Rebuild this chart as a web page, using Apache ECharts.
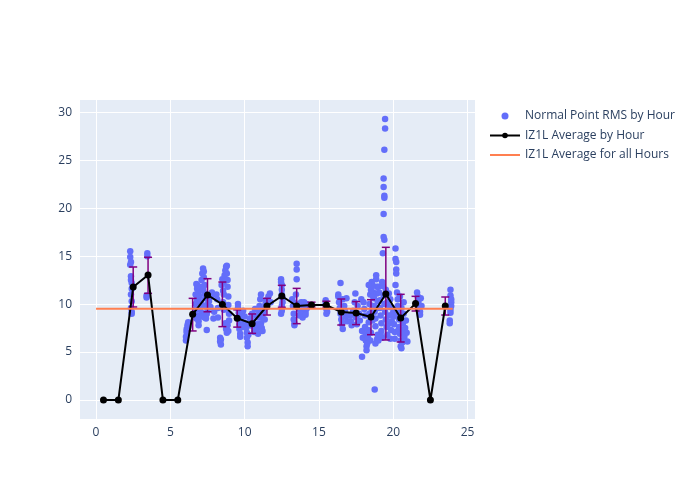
<!DOCTYPE html>
<html>
<head>
<meta charset="utf-8">
<script src="https://cdn.jsdelivr.net/npm/echarts@6/dist/echarts.min.js"></script>
<style>html,body{margin:0;padding:0;background:#fff}#c{width:700px;height:500px}</style>
</head>
<body>
<div id="c"></div>
<script>
// Hourly average (IZ1L) and error bars
var hours = [0.5,1.5,2.5,3.5,4.5,5.5,6.5,7.5,8.5,9.5,10.5,11.5,12.5,13.5,14.5,15.5,16.5,17.5,18.5,19.5,20.5,21.5,22.5,23.5];
var avgByHour = [0,0,11.78,13.03,0,0,8.93,10.95,9.97,8.52,7.96,9.8,10.84,9.8,9.9,9.9,9.17,9.07,8.65,11.05,8.55,10.05,0,9.8];
var errHigh = [null,null,13.87,14.88,null,null,10.6,12.65,12.3,9.4,8.97,10.6,11.96,11.64,10.2,10.3,10.53,10.26,10.46,15.92,11.02,10.81,null,10.74];
var errLow  = [null,null,9.7,11.12,null,null,7.2,9.2,7.65,7.6,6.95,8.86,9.67,7.96,9.7,9.7,7.82,7.86,6.81,6.26,6.05,9.28,null,8.86];
var overallAvg = 9.52;
var overallRange = [0, 24];
var xTicks = [0,5,10,15,20,25];
var yTicks = [0,5,10,15,20,25,30];

// Normal point RMS by hour [hour, rms]
var rmsPoints = [
 [2.3,15.5],[2.3,14.9],[2.35,14.4],[2.3,14.1],[2.35,12.9],[2.35,12.5],[2.4,12.2],[2.4,11.6],[2.35,11.0],[2.4,10.3],[2.35,9.6],[2.4,9.2],[2.4,9.0],
 [3.45,15.3],[3.45,15.0],[3.4,10.7],[3.4,10.9],
 [6.05,6.2],[6.05,6.6],[6.1,7.0],[6.1,7.4],[6.15,7.8],[6.2,8.1],[6.1,7.2],[6.2,7.6],[6.6,9.0],[6.7,10.0],[6.7,11.0],[6.75,12.1],[6.8,11.6],[6.8,10.5],[6.85,9.5],[6.85,8.8],[6.9,8.2],[6.9,7.8],[6.7,9.4],[6.75,8.5],[6.8,12.0],[6.9,11.3],[6.95,10.8],[6.95,9.9],
 [7.0,11.8],[7.05,10.2],[7.1,9.1],[7.1,12.5],[7.15,13.2],[7.2,13.7],[7.25,13.4],[7.25,12.8],[7.3,12.0],[7.3,11.1],[7.35,10.6],[7.35,9.8],[7.4,8.9],[7.4,8.5],[7.45,7.3],[7.5,9.3],[7.5,10.0],[7.0,9.6],[7.15,8.7],[7.2,11.5],[7.3,8.6],[7.45,9.0],[7.6,10.3],[7.7,9.7],[7.75,10.8],[7.8,11.2],[7.9,8.5],[7.95,9.2],
 [8.1,11.0],[8.15,10.5],[8.2,9.6],[8.2,8.6],[8.35,6.5],[8.35,6.1],[8.4,5.8],[8.4,6.3],[8.45,12.0],[8.5,12.6],[8.55,11.4],[8.55,10.2],[8.6,9.4],[8.6,12.3],[8.65,13.0],[8.7,13.5],[8.75,13.9],[8.8,14.0],[8.8,13.2],[8.85,12.5],[8.85,11.8],[8.9,10.8],[8.9,9.9],[8.95,9.0],[8.95,8.3],[8.7,8.0],[8.75,7.4],[8.8,7.0],[8.85,7.8],[8.9,7.2],[8.6,11.0],[8.5,9.8],
 [9.55,10.0],[9.55,9.6],[9.6,9.1],[9.6,8.5],[9.65,7.9],[9.65,7.4],[9.7,6.9],[9.7,6.6],[9.75,8.2],[9.8,7.6],[9.85,8.8],[9.9,9.3],[9.95,8.0],
 [10.0,8.7],[10.05,8.0],[10.1,7.5],[10.15,7.0],[10.15,6.5],[10.2,6.0],[10.2,5.6],[10.25,6.8],[10.3,7.8],[10.35,8.5],[10.5,9.0],[10.55,8.2],[10.6,7.6],[10.65,7.1],[10.7,9.5],[10.75,8.8],[10.8,7.4],[10.85,7.9],[10.9,8.6],[10.95,9.3],[10.9,6.9],
 [11.0,9.8],[11.05,10.5],[11.1,11.0],[11.1,8.0],[11.15,7.5],[11.2,8.6],[11.25,9.1],[11.3,9.5],[11.4,10.0],[11.45,10.4],[11.5,9.7],[11.6,10.8],[11.7,11.1],[11.75,10.2],[11.2,7.2],[11.05,7.8],[11.35,8.4],
 [12.45,12.6],[12.45,12.3],[12.5,12.0],[12.5,11.5],[12.5,11.0],[12.55,10.6],[12.55,10.2],[12.5,9.8],[12.5,9.3],[12.45,9.0],
 [13.2,10.5],[13.25,9.8],[13.3,9.0],[13.3,8.4],[13.35,7.8],[13.35,8.0],[13.4,10.1],[13.45,11.0],[13.5,14.2],[13.5,13.6],[13.5,12.6],[13.6,9.6],[13.7,8.8],[13.75,9.3],[13.8,10.2],[13.85,9.0],[13.9,8.6],[13.95,9.7],
 [14.0,10.2],[14.05,9.8],[14.05,9.5],[14.1,9.2],[14.1,8.9],[14.15,10.0],[14.2,9.6],
 [15.45,10.4],[15.45,10.1],[15.5,9.8],[15.5,9.5],[15.55,9.2],[15.5,9.0],
 [16.3,10.8],[16.3,11.0],[16.35,10.2],[16.4,9.6],[16.45,9.0],[16.5,8.4],[16.55,7.9],[16.6,7.4],[16.45,12.2],[16.6,10.5],[16.7,9.8],[16.75,9.3],[16.8,8.7],[16.85,10.6],[16.9,8.2],
 [17.1,8.8],[17.15,8.2],[17.2,7.8],[17.3,9.3],[17.4,10.2],[17.45,11.1],[17.5,8.6],[17.55,7.9],[17.6,9.8],[17.7,9.0],[17.75,8.3],[17.9,4.5],[17.85,10.5],[17.9,7.2],[17.95,6.5],
 [18.0,10.2],[18.05,9.5],[18.1,8.8],[18.1,7.6],[18.15,6.8],[18.15,6.2],[18.2,5.6],[18.2,5.2],[18.25,5.9],[18.3,6.5],[18.3,7.3],[18.35,8.1],[18.4,9.0],[18.4,10.0],[18.45,11.0],[18.5,11.5],[18.55,12.3],[18.6,12.0],[18.65,11.2],[18.7,10.6],[18.7,9.8],[18.75,9.2],[18.75,1.1],[18.8,8.5],[18.8,7.7],[18.85,13.0],[18.85,12.6],[18.9,11.8],[18.9,11.1],[18.95,10.3],[18.95,9.6],[18.6,8.3],[18.5,7.0],[18.45,6.2],[18.55,9.4],[18.65,10.8],[18.35,12.0],[18.9,6.3],[18.95,6.8],[18.8,5.9],
 [19.45,29.3],[19.45,28.3],[19.4,26.1],[19.35,23.1],[19.35,22.2],[19.4,21.3],[19.4,21.1],[19.35,19.4],[19.35,17.0],[19.4,16.7],[19.3,15.3],[19.0,11.8],[19.05,11.2],[19.1,10.4],[19.1,9.6],[19.15,8.8],[19.2,8.0],[19.2,7.2],[19.25,6.5],[19.3,11.9],[19.35,10.9],[19.4,10.0],[19.45,9.2],[19.5,8.4],[19.55,7.6],[19.6,6.8],[19.65,7.9],[19.7,8.8],[19.75,9.7],[19.8,10.5],[19.85,7.3],[19.9,8.2],[19.95,9.0],[19.0,6.2],[19.15,6.8],[19.5,11.5],[19.6,10.2],[19.7,11.1],[19.25,12.3],[19.8,6.4],
 [20.0,9.5],[20.05,8.7],[20.05,7.9],[20.1,7.1],[20.1,6.4],[20.15,15.8],[20.15,14.7],[20.2,14.4],[20.2,13.6],[20.2,13.2],[20.15,12.0],[20.25,11.2],[20.3,10.5],[20.3,9.8],[20.35,9.1],[20.4,8.4],[20.4,7.6],[20.45,6.9],[20.5,6.2],[20.5,5.6],[20.55,5.4],[20.6,6.0],[20.6,7.2],[20.65,8.0],[20.7,9.0],[20.7,10.2],[20.75,6.6],[20.8,7.5],[20.85,8.3],[20.9,7.0],[20.95,6.1],[20.25,8.9],[20.35,7.3],[20.45,10.8],[20.55,9.6],
 [21.6,11.2],[21.65,10.8],[21.7,10.4],[21.7,10.0],[21.75,9.6],[21.8,9.2],[21.8,8.9],[21.85,10.6],[21.9,9.8],
 [23.85,11.5],[23.85,10.9],[23.9,10.5],[23.9,10.2],[23.9,9.8],[23.85,9.4],[23.85,9.1],[23.8,8.3],[23.8,8.0]
];

var avgData = hours.map(function(h,i){return [h, avgByHour[i]];});
var errData = [];
hours.forEach(function(h,i){ if(errHigh[i]!==null) errData.push([h, errLow[i], errHigh[i]]); });

var FONT = '"Open Sans", "DejaVu Sans", sans-serif';
var chart = echarts.init(document.getElementById('c'), null, {renderer:'canvas'});
chart.setOption({
  animation:false,
  backgroundColor:'#fff',
  textStyle:{fontFamily:FONT},
  grid:{left:80,right:225,top:100,bottom:81,show:true,backgroundColor:'#E5ECF6',borderWidth:0},
  legend:{
    orient:'vertical', left:484, top:105, itemGap:7.5, itemWidth:30, itemHeight:7,
    symbolKeepAspect:true,
    textStyle:{fontFamily:FONT,fontSize:12,color:'#2a3f5f'},
    data:[
      {name:'Normal Point RMS by Hour', icon:'circle', itemStyle:{color:'#636EFA'}},
      {name:'IZ1L Average by Hour'},
      {name:'IZ1L Average for all Hours', icon:'path://M0,0L30,0L30,2L0,2Z', itemStyle:{color:'#FF7F50'}}
    ]
  },
  xAxis:{
    type:'value', min:-1.08, max:25.5,
    axisLine:{show:false},
    axisTick:{show:false, customValues:xTicks},
    axisLabel:{color:'#2a3f5f',fontSize:12,fontFamily:FONT,margin:8,customValues:xTicks},
    splitLine:{show:true,lineStyle:{color:'#fff',width:1}}
  },
  yAxis:{
    type:'value', min:-1.98, max:31.28,
    axisLine:{show:false},
    axisTick:{show:false, customValues:yTicks},
    axisLabel:{color:'#2a3f5f',fontSize:12,fontFamily:FONT,margin:8,customValues:yTicks},
    splitLine:{show:true,lineStyle:{color:'#fff',width:1}}
  },
  series:[
    {
      name:'Normal Point RMS by Hour', type:'scatter', data:rmsPoints,
      symbol:'circle', symbolSize:6.5, itemStyle:{color:'#636EFA',opacity:1}
    },
    {
      name:'IZ1L Average by Hour', type:'line', data:avgData,
      symbol:'circle', symbolSize:7, showSymbol:true,
      lineStyle:{color:'#000',width:2}, itemStyle:{color:'#000'}, z:4
    },
    {
      name:'errorbars', type:'custom', data:errData,
      renderItem:function(params, api){
        var x = api.value(0);
        var lo = api.coord([x, api.value(1)]);
        var hi = api.coord([x, api.value(2)]);
        var w = 4;
        var st = {stroke:'#800080', lineWidth:1.5};
        return {type:'group', children:[
          {type:'line', shape:{x1:lo[0],y1:lo[1],x2:hi[0],y2:hi[1]}, style:st},
          {type:'line', shape:{x1:hi[0]-w,y1:hi[1],x2:hi[0]+w,y2:hi[1]}, style:st},
          {type:'line', shape:{x1:lo[0]-w,y1:lo[1],x2:lo[0]+w,y2:lo[1]}, style:st}
        ]};
      },
      z:3
    },
    {
      name:'IZ1L Average for all Hours', type:'line',
      data:[[overallRange[0],overallAvg],[overallRange[1],overallAvg]],
      symbol:'none', lineStyle:{color:'#FF7F50',width:2}, itemStyle:{color:'#FF7F50'}, z:5
    }
  ]
});
</script>
</body>
</html>
